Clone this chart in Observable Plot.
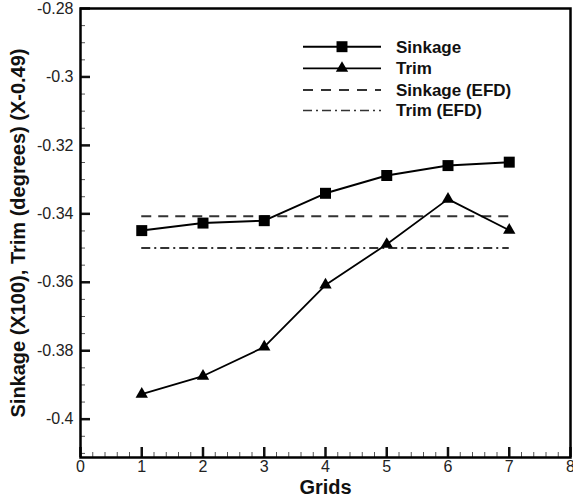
<!DOCTYPE html>
<html><head><meta charset="utf-8">
<script src="https://cdn.jsdelivr.net/npm/d3@7"></script>
<script src="https://cdn.jsdelivr.net/npm/@observablehq/plot@0.6"></script>
<style>body{margin:0;background:#fff;font-family:"Liberation Sans",Arial,sans-serif}</style>
</head><body><div id="chart"></div>
<script>
const grids = [1, 2, 3, 4, 5, 6, 7];
const sinkage = [-0.3449, -0.3427, -0.3420, -0.3340, -0.3288, -0.3259, -0.3249];
const trim = [-0.3927, -0.3874, -0.3789, -0.3608, -0.3489, -0.3357, -0.3448];
const sinkageEFD = -0.3407;
const trimEFD = -0.3500;
const xMajor = [0, 1, 2, 3, 4, 5, 6, 7, 8];
const xMinor = d3.range(0, 8.001, 0.2).map(v => +v.toFixed(1)).filter(v => !Number.isInteger(v));
const yMajor = [-0.40, -0.38, -0.36, -0.34, -0.32, -0.30, -0.28];
const yMinor = d3.range(-0.41, -0.2799, 0.005).map(v => +v.toFixed(3)).filter(v => Math.abs(v * 50 - Math.round(v * 50)) > 1e-6);
const legendLabels = ["Sinkage", "Trim", "Sinkage (EFD)", "Trim (EFD)"];

const W = 573, H = 503, mL = 80, mR = 3, mT = 8, mB = 46;
const pw = W - mL - mR, ph = H - mT - mB;
const sData = grids.map((g, i) => ({g, v: sinkage[i]}));
const tData = grids.map((g, i) => ({g, v: trim[i]}));
const fmt = d => String(+d.toFixed(2));
const font = "Liberation Sans, Arial, sans-serif";

const plot = Plot.plot({
  width: W, height: H,
  marginLeft: mL, marginRight: mR, marginTop: mT, marginBottom: mB,
  style: {fontFamily: font, background: "#fff"},
  x: {domain: [0, 8], label: null, axis: null},
  y: {domain: [-0.4112, -0.28], label: null, axis: null},
  marks: [
    Plot.text(yMajor, {y: d => d, text: fmt, frameAnchor: "left", textAnchor: "end", dx: -7, fontSize: 16, fill: "#222"}),
    Plot.text(xMajor, {x: d => d, text: d => String(d), frameAnchor: "bottom", dy: 14, fontSize: 16, fill: "#222"}),
    Plot.tickY(yMinor, {y: d => d, insetRight: pw - 5, stroke: "#555", strokeWidth: 1}),
    Plot.tickX(xMinor, {x: d => d, insetTop: ph - 5, stroke: "#555", strokeWidth: 1}),
    Plot.tickY(yMajor, {y: d => d, insetRight: pw - 10, stroke: "#111", strokeWidth: 2.5}),
    Plot.tickX(xMajor, {x: d => d, insetTop: ph - 10, stroke: "#111", strokeWidth: 2.5}),
    Plot.ruleY([sinkageEFD], {x1: grids[0], x2: grids[grids.length - 1], stroke: "#333", strokeWidth: 2, strokeDasharray: "10,7"}),
    Plot.ruleY([trimEFD], {x1: grids[0], x2: grids[grids.length - 1], stroke: "#333", strokeWidth: 2, strokeDasharray: "9,4,2,4"}),
    Plot.line(sData, {x: "g", y: "v", stroke: "#000", strokeWidth: 2}),
    Plot.dot(sData, {x: "g", y: "v", symbol: "square", r: 6.2, fill: "#000"}),
    Plot.line(tData, {x: "g", y: "v", stroke: "#000", strokeWidth: 1.8}),
    Plot.dot(tData, {x: "g", y: "v", symbol: "triangle", r: 4.6, fill: "#000"}),
    Plot.frame({stroke: "#000", strokeWidth: 2.5}),
    Plot.text(["Grids"], {frameAnchor: "bottom", dy: 36, fontSize: 20, fontWeight: "bold", fill: "#111"}),
    Plot.text(["Sinkage (X100), Trim (degrees) (X-0.49)"], {frameAnchor: "left", textAnchor: "middle", dx: -62, rotate: -90, fontSize: 20, fontWeight: "bold", fill: "#111"})
  ]
});
document.getElementById("chart").appendChild(plot);

// legend drawn in pixel space inside the plot
const svg = d3.select(plot);
const lg = svg.append("g").attr("font-family", font).attr("text-anchor", "start");
const rowY = [46.7, 68.3, 90, 110.5];
const styles = [
  {dash: null, w: 2, sym: d3.symbolSquare, size: 120},
  {dash: null, w: 1.8, sym: d3.symbolTriangle, size: 66},
  {dash: "10,8", w: 2, sym: null},
  {dash: "9,4,2,4", w: 1.6, sym: null}
];
legendLabels.forEach((lab, i) => {
  const s = styles[i];
  const y = rowY[i];
  lg.append("line").attr("x1", 303).attr("x2", 381).attr("y1", y).attr("y2", y)
    .attr("stroke", s.dash ? "#333" : "#000").attr("stroke-width", s.w)
    .attr("stroke-dasharray", s.dash);
  if (s.sym) lg.append("path").attr("d", d3.symbol(s.sym, s.size)()).attr("transform", `translate(342,${y})`).attr("fill", "#000");
  lg.append("text").attr("x", 396).attr("y", y).attr("dy", "0.35em").attr("font-size", 17)
    .attr("text-anchor", "start").attr("font-weight", "bold").attr("fill", "#111").text(lab);
});
</script></body></html>
